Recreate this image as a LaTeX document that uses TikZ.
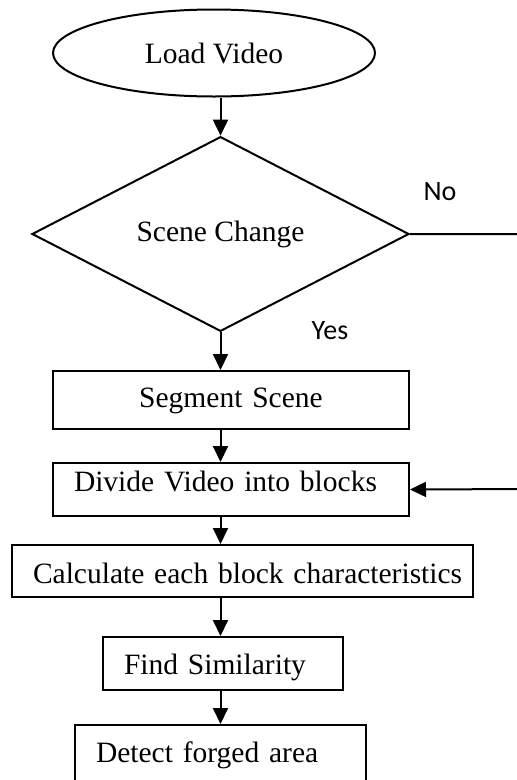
\documentclass[tikz,border=0pt]{standalone}
\usepackage{fontspec}
\setmainfont{Liberation Serif}
\newfontfamily\lblfont{Carlito}
\usetikzlibrary{shapes.geometric,arrows.meta}
\tikzset{
  flow/.style={draw,line width=2pt,inner ysep=0pt,inner xsep=21pt,align=left,
    font=\fontsize{29.5}{34}\selectfont},
  arr/.style={line width=2pt,-{Triangle[length=16pt,width=15pt]}},
  yesno/.style={font=\lblfont\fontsize{28}{32}\selectfont},
}
\begin{document}
\begin{tikzpicture}[x=1pt,y=-1pt]
      \useasboundingbox(0,0)rectangle(517,780);
      \clip(0,0)rectangle(517,780);
      \node[flow,ellipse,inner sep=0pt,minimum width=322pt,minimum height=87pt,align=center](load)at(214,53){Load Video};
      \node[flow,diamond,inner sep=0pt,minimum width=377pt,minimum height=194pt,align=center](scene)at(220.5,234){Scene Change};
      \node[flow,anchor=north,text width=314pt,align=center,text height=36pt,text depth=22pt](seg)at(231,370){Segment Scene};
      \node[flow,anchor=north,text width=314pt,text height=28pt,text depth=25pt](divide)at(231,462){Divide Video into blocks};
      \node[flow,anchor=north,text width=419pt,text height=38pt,text depth=14pt](calc)at(242.5,544){\mbox{Calculate each block characteristics}};
      \node[flow,anchor=north,text width=198pt,text height=37pt,text depth=16pt](find)at(223,636){Find Similarity};
      \node[flow,anchor=north,text width=249pt,text height=37pt,text depth=70pt](detect)at(220.5,724){Detect forged area};
      \node[yesno](no)at(440,192){No};
      \node[yesno](yes)at(330,331){Yes};
      \coordinate(back)at(530,489);
           \foreach \a/\b in{%
             load/scene, scene/seg, seg/divide, divide/calc, calc/find, find/detect}{%
             \draw[arr](\a.south-|scene.center)--(\b.north-|scene.center);
           }
      \draw[arr](scene.east)-|(back)--(divide.east);
    \end{tikzpicture}
\end{document}
